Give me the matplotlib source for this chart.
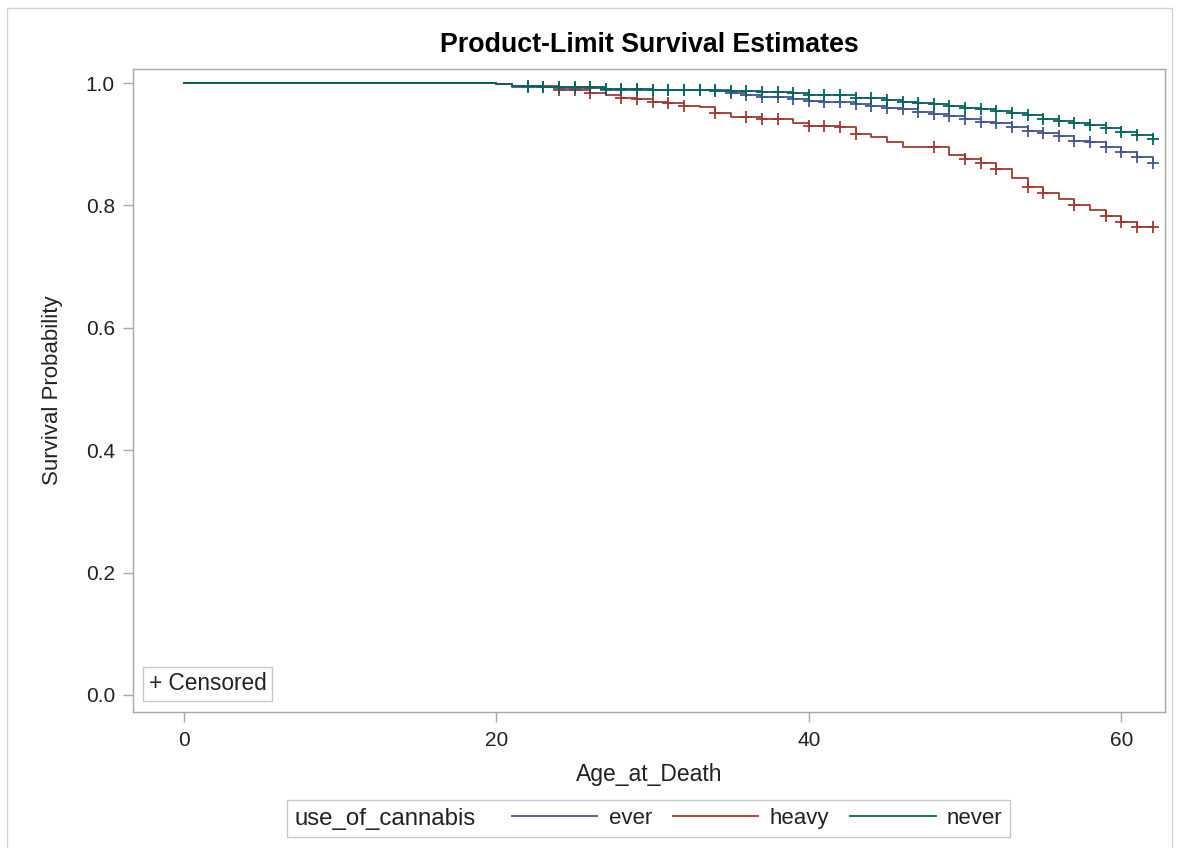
import matplotlib
matplotlib.use("Agg")
import matplotlib.pyplot as plt
from matplotlib.patches import Rectangle
from matplotlib.offsetbox import HPacker

plt.rcParams['font.family'] = ['Liberation Sans', 'DejaVu Sans']

# Kaplan-Meier estimates (age at death, survival after that age)
ages = [20, 21, 22, 23, 24, 25, 26, 27, 28, 29, 30, 31, 32, 33, 34, 35, 36, 37, 38, 39, 40,
        41, 42, 43, 44, 45, 46, 47, 48, 49, 50, 51, 52, 53, 54, 55, 56, 57, 58, 59, 60, 61, 62]

surv_ever = [0.998, 0.994, 0.994, 0.994, 0.992, 0.992, 0.992, 0.989, 0.989, 0.989, 0.988,
             0.988, 0.988, 0.988, 0.988, 0.983, 0.980, 0.978, 0.977, 0.974, 0.971,
             0.969, 0.969, 0.966, 0.962, 0.960, 0.957, 0.953, 0.950, 0.946, 0.942,
             0.937, 0.934, 0.929, 0.922, 0.918, 0.913, 0.906, 0.903, 0.896, 0.887,
             0.879, 0.870]

surv_heavy = [0.999, 0.995, 0.995, 0.995, 0.989, 0.989, 0.984, 0.980, 0.976, 0.974, 0.969,
              0.967, 0.962, 0.961, 0.951, 0.944, 0.944, 0.941, 0.941, 0.935, 0.930,
              0.930, 0.928, 0.917, 0.912, 0.904, 0.895, 0.895, 0.895, 0.882, 0.876,
              0.869, 0.860, 0.845, 0.830, 0.820, 0.810, 0.800, 0.793, 0.783, 0.773,
              0.765, 0.765]

surv_never = [0.998, 0.996, 0.996, 0.994, 0.993, 0.993, 0.993, 0.990, 0.990, 0.990, 0.989,
              0.989, 0.989, 0.989, 0.987, 0.987, 0.987, 0.986, 0.986, 0.983, 0.980,
              0.980, 0.980, 0.976, 0.976, 0.972, 0.969, 0.967, 0.966, 0.962, 0.960,
              0.957, 0.955, 0.951, 0.948, 0.942, 0.938, 0.934, 0.931, 0.926, 0.920,
              0.915, 0.909]

# ages with a censoring mark
cens_ever = [22, 23, 24, 25, 26, 27, 28, 29, 30, 31, 32, 33, 34, 35, 36, 37, 38, 39, 40, 41,
             42, 43, 44, 45, 46, 47, 48, 49, 50, 51, 52, 53, 54, 55, 56, 57, 58, 59, 60, 61, 62]
cens_heavy = [24, 25, 26, 28, 29, 30, 31, 32, 34, 36, 37, 38, 40, 41, 42, 43, 48, 50, 51, 52,
              54, 55, 57, 59, 60, 61, 62]
cens_never = [22, 23, 24, 25, 26, 27, 28, 29, 30, 31, 32, 33, 34, 35, 36, 37, 38, 39, 40, 41,
              42, 43, 44, 45, 46, 47, 48, 49, 50, 51, 52, 53, 54, 55, 56, 57, 58, 59, 60, 61, 62]

groups = ['ever', 'heavy', 'never']
colors = {'ever': '#445694', 'heavy': '#A23A2E', 'never': '#01665E'}
survival = {'ever': surv_ever, 'heavy': surv_heavy, 'never': surv_never}
censored = {'ever': cens_ever, 'heavy': cens_heavy, 'never': cens_never}

TXT = '#222222'
W, H = 1183, 848
fig = plt.figure(figsize=(W / 100, H / 100), dpi=100)
ax = fig.add_axes([133 / W, 1 - 712 / H, (1165 - 133) / W, (712 - 69) / H])

# outer frame of the graph
fig.patches.append(Rectangle((7 / W, -0.01), (1172 - 7) / W, 1 - 8 / H + 0.01,
                             transform=fig.transFigure, fill=False,
                             edgecolor='#d4d4d4', linewidth=1))

handles = []
for g in groups:
    x = [0] + ages
    y = [1.0] + survival[g]
    line, = ax.plot(x, y, drawstyle='steps-post', color=colors[g], lw=1.3)
    lookup = dict(zip(ages, survival[g]))
    ax.plot(censored[g], [lookup[a] for a in censored[g]], linestyle='none',
            marker='+', markersize=9, markeredgewidth=1.3, color=colors[g])
    handles.append(line)

ax.set_xlim(-3.27, 62.8)
ax.set_ylim(-0.028, 1.023)
ax.set_xticks([0, 20, 40, 60])
ax.set_yticks([0.0, 0.2, 0.4, 0.6, 0.8, 1.0])
ax.set_yticklabels(['0.0', '0.2', '0.4', '0.6', '0.8', '1.0'])

for s in ax.spines.values():
    s.set_color('#a8a8a8')
    s.set_linewidth(1)
ax.tick_params(axis='both', colors='#a8a8a8', labelcolor=TXT, labelsize=15,
               length=7, width=1)
ax.tick_params(axis='y', pad=6)
ax.tick_params(axis='x', pad=7)

ax.set_xlabel('Age_at_Death', fontsize=16.5, color=TXT, labelpad=9)
ax.set_ylabel('Survival Probability', fontsize=16, color=TXT, labelpad=16)
ax.set_title('Product-Limit Survival Estimates', fontsize=19.3, fontweight='bold',
             pad=12)

ax.text(0.0155, 0.026, '+ Censored', transform=ax.transAxes, fontsize=16.3,
        color=TXT, ha='left', va='bottom',
        bbox=dict(boxstyle='square,pad=0.25', facecolor='white', edgecolor='#c8c8c8'))

leg = fig.legend(handles, groups, ncol=3, title='use_of_cannabis', title_fontsize=17.3,
                 fontsize=16, loc='center', bbox_to_anchor=(648.5 / W, 1 - 818.5 / H),
                 frameon=True, fancybox=False, edgecolor='#c8c8c8', framealpha=1,
                 handlelength=3.85, handletextpad=0.5, columnspacing=0.95,
                 borderpad=0.35)
leg.get_frame().set_linewidth(1)
# put the legend title on the same row as the entries
old_box = leg._legend_box
leg._legend_box = HPacker(pad=old_box.pad, sep=26, align='center',
                          children=old_box.get_children())
leg._legend_box.set_figure(fig)
leg._legend_box.set_offset(leg._findoffset)
leg.get_title().set_color(TXT)
for t in leg.get_texts():
    t.set_color(TXT)

fig.savefig('out.png', dpi=100)
